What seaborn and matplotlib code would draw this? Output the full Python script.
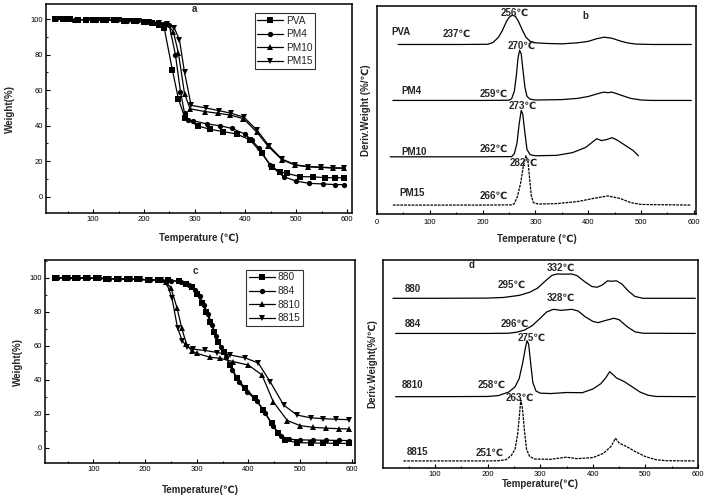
import numpy as np
import pandas as pd
import matplotlib
matplotlib.use("Agg")
import matplotlib.pyplot as plt
import seaborn as sns
from matplotlib.ticker import MultipleLocator

# ---------------- data: panel a (TGA) ----------------
PVA_T = [25, 40, 55, 70, 85, 100, 120, 140, 160, 180, 200, 215, 230, 240, 256, 268, 281, 307, 330, 356, 383, 409, 432, 452, 468, 481, 508, 534, 557, 577, 595]
PVA_W = [100, 100, 100, 99.8, 99.8, 99.6, 99.5, 99.3, 99, 98.8, 98.5, 98, 97, 95, 71.4, 55, 44.2, 39.8, 38, 36.7, 35.3, 32, 24.5, 16.9, 14.1, 13.2, 11.3, 11.2, 10.7, 10.7, 10.6]
PM4_T = [25, 45, 65, 85, 105, 125, 145, 165, 185, 205, 225, 240, 250, 262, 272, 280, 287, 297, 324, 350, 373, 399, 412, 426, 448, 475, 500, 526, 552, 577, 595]
PM4_W = [100, 100, 99.8, 99.8, 99.6, 99.5, 99.3, 99, 98.8, 98.5, 98, 97.5, 96.5, 80, 59.2, 47, 43.2, 42.8, 41, 40, 38.5, 35.3, 32, 27.6, 17.9, 11.3, 8.8, 7.5, 7.2, 6.8, 6.8]
PM10_T = [25, 45, 65, 85, 105, 125, 145, 165, 185, 205, 225, 245, 258, 268, 280, 291, 320, 346, 370, 396, 422, 445, 472, 498, 524, 549, 573, 595]
PM10_W = [100, 100, 99.8, 99.8, 99.6, 99.5, 99.3, 99, 98.8, 98.5, 98, 97.5, 93, 80.8, 58, 49.5, 48, 47, 46, 44, 36.5, 28.3, 20.8, 17.8, 16.8, 16.5, 16.1, 16]
PM15_T = [30, 50, 70, 90, 110, 130, 150, 170, 190, 210, 230, 245, 260, 270, 280, 293, 322, 348, 372, 397, 423, 446, 472, 498, 524, 549, 573, 595]
PM15_W = [100, 99.9, 99.8, 99.7, 99.6, 99.5, 99.3, 99, 98.8, 98.5, 98, 97.5, 95, 88.3, 70, 51.5, 50, 48.5, 47, 44.8, 37.5, 28.8, 21.2, 18, 17, 16.7, 16.3, 16.2]

# ---------------- data: panel c (TGA) ----------------
S880_T = [25, 45, 65, 85, 105, 125, 145, 165, 185, 205, 225, 245, 265, 280, 291, 300, 310, 318, 326, 334, 342, 352, 365, 378, 394, 413, 429, 445, 458, 471, 494, 520, 545, 570, 595]
S880_W = [100, 100, 99.8, 99.8, 99.6, 99.5, 99.3, 99.2, 99, 98.8, 98.6, 98.4, 98, 96.5, 94.5, 90.5, 85, 80, 74, 68, 62.4, 56.5, 48.6, 40.8, 34.9, 29, 22.2, 14.3, 8.5, 4.5, 3, 2.8, 2.7, 2.6, 2.5]
S884_T = [30, 50, 70, 90, 110, 130, 150, 170, 190, 210, 230, 250, 270, 285, 297, 306, 314, 322, 330, 338, 346, 356, 368, 381, 397, 416, 432, 448, 462, 478, 500, 525, 550, 575, 595]
S884_W = [100, 99.9, 99.8, 99.7, 99.6, 99.5, 99.3, 99.2, 99, 98.8, 98.6, 98.2, 97.5, 95.8, 93, 89, 84, 78.5, 72, 65.5, 59.5, 53.5, 46, 38.5, 33, 27.5, 20.5, 12.5, 7, 5, 4.6, 4.5, 4.4, 4.3, 4.2]
S8810_T = [25, 45, 65, 85, 105, 125, 145, 165, 185, 205, 225, 240, 250, 262, 271, 280, 290, 300, 326, 345, 371, 400, 426, 448, 475, 500, 525, 550, 575, 595]
S8810_W = [100, 100, 99.8, 99.8, 99.6, 99.5, 99.3, 99.2, 99, 98.8, 98.5, 97.5, 94, 82, 70.2, 61, 57, 55.5, 53.2, 52.6, 50.6, 48.6, 42.8, 27, 16, 13, 12, 11.5, 11.2, 11]
S8815_T = [30, 50, 70, 90, 110, 130, 150, 170, 190, 210, 230, 242, 252, 263, 272, 281, 293, 316, 340, 365, 394, 419, 442, 468, 494, 520, 545, 570, 595]
S8815_W = [100, 99.9, 99.8, 99.7, 99.6, 99.5, 99.3, 99.2, 99, 98.8, 98.5, 96.5, 88, 70.2, 63, 59.4, 58, 57.2, 56, 54.5, 52.8, 49.8, 38.8, 25.1, 19.2, 17.6, 17.1, 16.7, 16.5]

# ---------------- data: panel b (DTG, offset curves, arbitrary units) ----------------
B_PVA_T = [40, 100, 160, 210, 220, 230, 237, 245, 250, 256, 262, 268, 275, 282, 290, 300, 320, 350, 380, 400, 415, 430, 445, 460, 475, 490, 520, 595]
B_PVA_Y = [81.5, 81.5, 81.5, 81.6, 82.5, 85, 88, 92.5, 94.5, 95.6, 95, 92.5, 88.5, 85, 83, 82.3, 82, 81.8, 82.3, 83, 84.2, 85, 84.5, 83.2, 82.2, 81.7, 81.5, 81.5]
B_PM4_T = [30, 100, 200, 250, 255, 260, 264, 267, 270, 273, 276, 280, 284, 290, 300, 350, 380, 400, 420, 430, 437, 445, 460, 480, 500, 520, 595]
B_PM4_Y = [54.6, 54.6, 54.6, 54.7, 55.5, 59, 67, 75, 78.7, 77, 70, 61, 56.5, 55.2, 54.8, 55, 55.6, 56.5, 58, 58.6, 58.3, 58.6, 57.3, 55.6, 54.8, 54.6, 54.6]
B_PM10_T = [25, 100, 200, 255, 260, 265, 269, 273, 276, 280, 284, 290, 300, 340, 370, 395, 410, 416, 425, 435, 445, 455, 470, 485, 495]
B_PM10_Y = [27.5, 27.5, 27.5, 27.6, 29, 34, 43, 49.8, 48, 39, 31, 28.5, 28, 28.2, 29.5, 32, 35, 36.2, 35.3, 35.8, 36.7, 35.5, 33, 30.5, 28]
B_PM15_T = [30, 100, 200, 255, 260, 266, 272, 277, 282, 286, 289, 292, 296, 305, 340, 380, 410, 437, 460, 480, 500, 595]
B_PM15_Y = [4.3, 4.3, 4.3, 4.4, 5, 8.5, 15, 23, 28, 25, 17, 9, 5.5, 4.8, 5, 6, 7.5, 8.7, 7.5, 5.5, 4.6, 4.3]

# ---------------- data: panel d (DTG, offset curves, arbitrary units) ----------------
D880_T = [20, 100, 200, 230, 260, 280, 295, 310, 322, 332, 345, 360, 370, 385, 398, 408, 418, 428, 435, 445, 455, 468, 480, 495, 595]
D880_Y = [81.6, 81.6, 81.7, 82, 83, 84.5, 86.5, 90, 92.6, 93.3, 93.2, 93.3, 92.5, 89.5, 87.3, 86.9, 88, 90, 89.8, 90, 88.5, 85, 82.5, 81.6, 81.6]
D884_T = [25, 100, 200, 240, 255, 270, 285, 300, 312, 325, 340, 360, 372, 385, 400, 410, 425, 440, 450, 465, 480, 495, 595]
D884_Y = [64.7, 64.7, 64.7, 64.8, 65.3, 66.3, 68.5, 72, 75, 76.3, 75.8, 76.3, 75.5, 72.8, 70.5, 69.9, 71, 72, 71.3, 68, 65.5, 64.8, 64.7]
D8810_T = [25, 100, 200, 220, 240, 252, 260, 267, 272, 275, 278, 282, 286, 292, 300, 320, 350, 380, 400, 415, 425, 432, 438, 445, 460, 475, 490, 505, 520, 595]
D8810_Y = [34.3, 34.3, 34.4, 34.8, 36.5, 39, 43, 51, 58, 61.2, 59.5, 50, 41, 37, 36, 35.8, 36.3, 36.2, 38, 40.5, 43.5, 46.3, 45, 43.3, 41.5, 39, 36.5, 35, 34.4, 34.3]
D8815_T = [40, 100, 200, 220, 235, 245, 252, 257, 260, 263, 266, 270, 274, 280, 290, 320, 350, 370, 400, 420, 435, 443, 450, 465, 480, 500, 520, 540, 595]
D8815_Y = [3.4, 3.4, 3.4, 3.5, 4, 6, 9, 16, 24, 32.7, 29, 18, 9, 5.5, 4.3, 4.2, 5.2, 4.5, 5, 7, 10.5, 14.3, 12, 10.2, 8, 5.5, 4, 3.5, 3.4]

# ---------------- style ----------------
sns.set_theme(style="ticks")
plt.rcParams["font.family"] = ["Liberation Sans", "DejaVu Sans"]
plt.rcParams["axes.linewidth"] = 1.1
plt.rcParams["axes.edgecolor"] = "black"

fig = plt.figure(figsize=(7.10, 4.99), dpi=100)
fig.patch.set_facecolor("white")

ax_a = fig.add_axes([0.0648, 0.5731, 0.4310, 0.4189])
ax_b = fig.add_axes([0.5310, 0.5711, 0.4493, 0.4169])
ax_c = fig.add_axes([0.0634, 0.0721, 0.4366, 0.4068])
ax_d = fig.add_axes([0.5394, 0.0621, 0.4437, 0.4168])

TICK_FS = 5.5
LAB_FS = 7
ANN_FS = 7


def style_axes(ax, yticks=True, xpad=2.5):
    ax.tick_params(axis="both", which="major", direction="in", length=3, width=0.8,
                   labelsize=TICK_FS, pad=2, colors="black")
    ax.tick_params(axis="x", which="major", pad=xpad)
    ax.tick_params(axis="both", which="minor", direction="in", length=1.5, width=0.8)
    ax.xaxis.set_minor_locator(MultipleLocator(50))
    if yticks:
        ax.yaxis.set_minor_locator(MultipleLocator(10))
    else:
        ax.set_yticks([])
    for s in ax.spines.values():
        s.set_visible(True)
        s.set_color("black")
        s.set_linewidth(1.1)
    ax.set_facecolor("white")


def tga(ax, series, xlim, ylim, letter, letter_xy, xlab, leg_anchor, xlpad, ylpad):
    for T, W, m, lab, ls in series:
        sns.lineplot(x=T, y=W, ax=ax, color="black", marker=m, markersize=3.8,
                     markeredgewidth=0, linewidth=0.9, label=lab, estimator=None,
                     linestyle=ls)
    ax.set_xlim(*xlim)
    ax.set_ylim(*ylim)
    ax.set_xticks([100, 200, 300, 400, 500, 600])
    ax.set_yticks([0, 20, 40, 60, 80, 100])
    style_axes(ax)
    ax.set_xlabel(xlab, fontsize=LAB_FS, fontweight="bold", labelpad=xlpad)
    ax.set_ylabel("Weight(%)", fontsize=LAB_FS, fontweight="bold", labelpad=ylpad)
    ax.text(letter_xy[0], letter_xy[1], letter, fontsize=ANN_FS, fontweight="bold",
            ha="center", va="center")
    leg = ax.legend(loc="upper right", bbox_to_anchor=leg_anchor,
                    bbox_transform=fig.transFigure, fontsize=7.3, frameon=True,
                    fancybox=False, edgecolor="black", handlelength=2.6,
                    handletextpad=0.25, labelspacing=0.36, borderpad=0.25,
                    borderaxespad=0)
    leg.get_frame().set_linewidth(0.8)


tga(ax_a,
    [(PVA_T, PVA_W, "s", "PVA", "-"), (PM4_T, PM4_W, "o", "PM4", "-"),
     (PM10_T, PM10_W, "^", "PM10", "-"), (PM15_T, PM15_W, "v", "PM15", "-")],
    (7, 610), (-9.2, 108.6), "a", (299, 106), "Temperature (\u2103)", (0.4437, 0.974),
    xlpad=7, ylpad=11)

tga(ax_c,
    [(S880_T, S880_W, "s", "880", "-"), (S884_T, S884_W, "o", "884", "-"),
     (S8810_T, S8810_W, "^", "8810", "-"), (S8815_T, S8815_W, "v", "8815", "-")],
    (6.5, 606), (-9, 110.4), "c", (297, 104), "Temperature(\u2103)", (0.4268, 0.459),
    xlpad=8, ylpad=5)


def dtg(ax, series, labels, xlim, xticks, letter, letter_xy, xlab, ylab, xlpad, xpad):
    for T, Y, ls in series:
        sns.lineplot(x=T, y=Y, ax=ax, color="black", linewidth=0.9, estimator=None,
                     linestyle=ls)
    ax.set_xlim(*xlim)
    ax.set_ylim(0, 100)
    ax.set_xticks(xticks)
    style_axes(ax, yticks=False, xpad=xpad)
    ax.set_xlabel(xlab, fontsize=LAB_FS, fontweight="bold", labelpad=xlpad)
    ax.set_ylabel(ylab, fontsize=LAB_FS, fontweight="bold", labelpad=4)
    for x, y, t in labels:
        ax.text(x, y, t, fontsize=ANN_FS, fontweight="bold", ha="center", va="center")
    ax.text(letter_xy[0], letter_xy[1], letter, fontsize=ANN_FS, fontweight="bold",
            ha="center", va="center")


dash = (0, (2.2, 0.8))
dtg(ax_b,
    [(B_PVA_T, B_PVA_Y, "-"), (B_PM4_T, B_PM4_Y, "-"), (B_PM10_T, B_PM10_Y, "-"),
     (B_PM15_T, B_PM15_Y, dash)],
    [(45, 87.4, "PVA"), (151, 86.5, "237\u2103"), (261, 96.8, "256\u2103"),
     (66, 59, "PM4"), (221, 58, "259\u2103"), (274, 80.8, "270\u2103"),
     (70, 29.6, "PM10"), (221, 31.4, "262\u2103"), (276, 52, "273\u2103"),
     (66, 10.3, "PM15"), (221, 8.7, "266\u2103"), (278, 24.6, "282\u2103")],
    (0, 604), [0, 100, 200, 300, 400, 500, 600], "b", (394, 95),
    "Temperature (\u2103)", "Deriv.Weight (%/\u2103)", xlpad=6, xpad=3.5)

dtg(ax_d,
    [(D880_T, D880_Y, "-"), (D884_T, D884_Y, "-"), (D8810_T, D8810_Y, "-"),
     (D8815_T, D8815_Y, dash)],
    [(57, 86, "880"), (245, 88, "295\u2103"), (340, 96, "332\u2103"),
     (57, 69.2, "884"), (251, 69.2, "296\u2103"), (340, 81.6, "328\u2103"),
     (57, 39.9, "8810"), (207, 39.9, "258\u2103"), (283, 62.8, "275\u2103"),
     (67, 7.5, "8815"), (204, 7.5, "251\u2103"), (261, 33.8, "263\u2103")],
    (1, 600), [100, 200, 300, 400, 500, 600], "d", (169, 97.6),
    "Temperature(\u2103)", "Deriv.Weight(%/\u2103)", xlpad=1, xpad=2)

fig.savefig("out.png", dpi=100, facecolor="white")
